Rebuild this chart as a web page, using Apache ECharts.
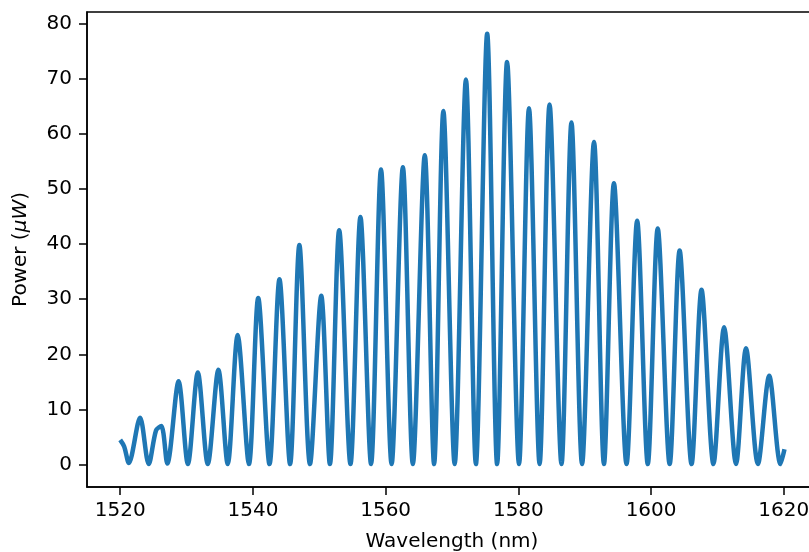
<!DOCTYPE html>
<html>
<head>
<meta charset="utf-8">
<script src="https://cdn.jsdelivr.net/npm/echarts@6/dist/echarts.min.js"></script>
<style>
html, body { margin: 0; padding: 0; background: #fff; }
#myChart { width: 809px; height: 552px; }
</style>
</head>
<body>
<div id="myChart"></div>
<script>
// wavelength (nm) at each read peak / trough
var wavelength = [
    1520.0, 1520.6, 1521.3, 1523.0, 1524.3, 1525.4, 1526.2, 1527.1,
    1528.8, 1530.2, 1531.7, 1533.2, 1534.8, 1536.2, 1537.7, 1539.4,
    1540.8, 1542.5, 1544.0, 1545.6, 1547.0, 1548.6, 1550.3, 1551.6,
    1553.0, 1554.7, 1556.2, 1557.8, 1559.3, 1560.9, 1562.6, 1564.1,
    1565.9, 1567.3, 1568.7, 1570.4, 1572.1, 1573.6, 1575.3, 1576.8,
    1578.3, 1580.1, 1581.6, 1583.2, 1584.7, 1586.5, 1588.0, 1589.6,
    1591.4, 1592.9, 1594.4, 1596.3, 1597.9, 1599.5, 1601.0, 1602.8,
    1604.3, 1606.1, 1607.6, 1609.4, 1611.0, 1612.8, 1614.3, 1616.1,
    1617.8, 1619.5, 1620.1
];
// power (uW)
var power = [
    4.5, 3.3, 0.3, 8.5, 0.1, 6.2, 7.0, 0.2,
    15.1, 0.1, 16.7, 0.1, 17.2, 0.1, 23.5, 0.1,
    30.2, 0.1, 33.6, 0.1, 39.8, 0.1, 30.6, 0.1,
    42.5, 0.1, 44.9, 0.1, 53.5, 0.1, 53.9, 0.1,
    56.1, 0.1, 64.1, 0.1, 69.8, 0.1, 78.1, 0.1,
    73.0, 0.1, 64.6, 0.1, 65.3, 0.1, 62.0, 0.1,
    58.5, 0.1, 51.0, 0.1, 44.2, 0.1, 42.8, 0.1,
    38.8, 0.1, 31.7, 0.1, 24.9, 0.1, 21.1, 0.1,
    16.1, 0.1, 2.8
];
var xTicks = [1520, 1540, 1560, 1580, 1600, 1620];
var yTicks = [0, 10, 20, 30, 40, 50, 60, 70, 80];

var seriesData = [];
for (var i = 0; i < wavelength.length; i++) {
    seriesData.push([wavelength[i], power[i]]);
}

var font = 'DejaVu Sans';
var myChart = echarts.init(document.getElementById("myChart"));
var option = {
    animation: false,
    grid: {
        left: 87,
        top: 12,
        width: 730,
        bottom: 65,
        outerBoundsMode: 'none',
        containLabel: false,
        show: true,
        borderColor: '#000',
        borderWidth: 1.5
    },
    xAxis: {
        type: 'value',
        min: 1515,
        max: 1625,
        name: 'Wavelength (nm)',
        nameLocation: 'middle',
        nameGap: 45,
        nameTextStyle: { fontFamily: font, fontSize: 20, color: '#000' },
        axisLine: { onZero: false, lineStyle: { color: '#000', width: 1.5 } },
        axisTick: { show: true, length: 8, lineStyle: { color: '#000', width: 1.5 }, customValues: xTicks },
        axisLabel: {
            fontFamily: font, fontSize: 20, color: '#000', margin: 14, customValues: xTicks,
            formatter: function (v) { return String(v); }
        },
        splitLine: { show: false }
    },
    yAxis: {
        type: 'value',
        min: -4.05,
        max: 82.05,
        name: 'Power ({i|μW})',
        nameLocation: 'middle',
        nameRotate: 90,
        nameGap: 56,
        nameTextStyle: {
            fontFamily: font, fontSize: 20, color: '#000',
            rich: { i: { fontFamily: font, fontSize: 20, fontStyle: 'italic', color: '#000' } }
        },
        axisLine: { show: true, lineStyle: { color: '#000', width: 1.5 } },
        axisTick: { show: true, length: 8, lineStyle: { color: '#000', width: 1.5 }, customValues: yTicks },
        axisLabel: { fontFamily: font, fontSize: 20, color: '#000', margin: 15, customValues: yTicks },
        splitLine: { show: false }
    },
    series: [
        {
            type: 'line',
            data: seriesData,
            symbol: 'none',
            smooth: 0.3,
            lineStyle: { color: '#1f77b4', width: 4.5 }
        }
    ]
};
myChart.setOption(option);
</script>
</body>
</html>
